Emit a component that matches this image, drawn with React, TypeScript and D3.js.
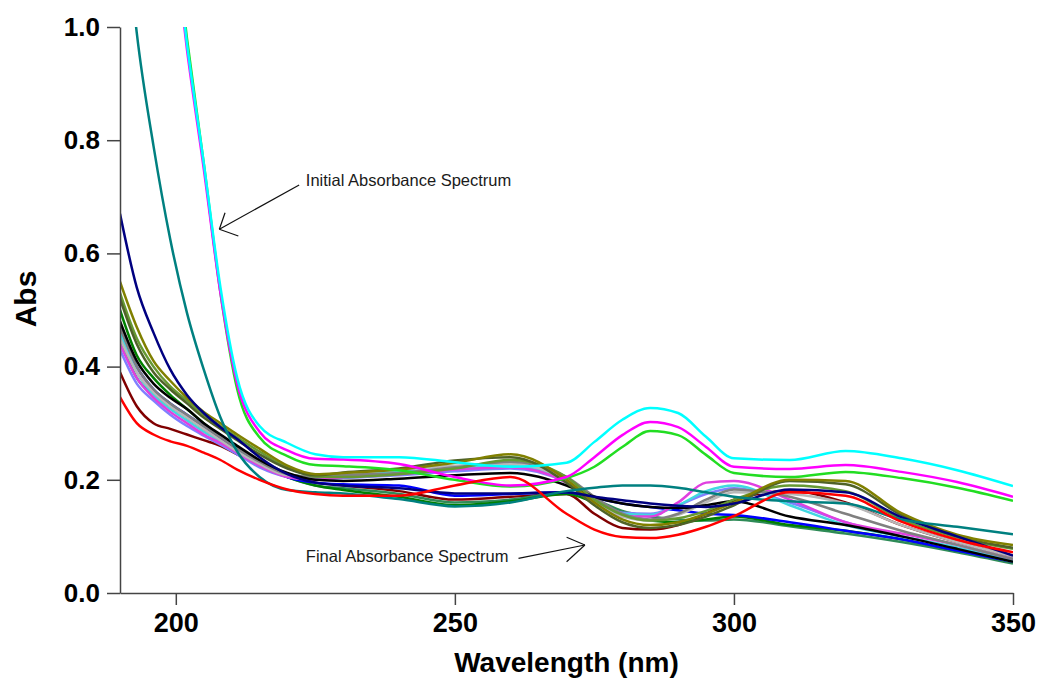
import React, { useEffect, useRef } from "react";
import * as d3 from "d3";

// wavelength grid (nm) shared by every spectrum
const wavelengths = [190, 193, 196, 199, 202, 205, 208, 211, 215, 220, 225, 230, 240, 250, 260, 270, 275, 280, 285, 290, 295, 300, 310, 320, 330, 340, 350];

// absorbance values (values above 1.0 run off the top)
const maroonAbs = [0.39, 0.33, 0.3, 0.29, 0.28, 0.27, 0.26, 0.245, 0.225, 0.205, 0.195, 0.19, 0.18, 0.165, 0.17, 0.175, 0.14, 0.115, 0.112, 0.12, 0.14, 0.165, 0.18, 0.16, 0.12, 0.09, 0.065];
const seaGreenAbs = [0.45, 0.38, 0.35, 0.33, 0.31, 0.29, 0.27, 0.25, 0.228, 0.205, 0.19, 0.185, 0.175, 0.16, 0.165, 0.178, 0.165, 0.145, 0.135, 0.13, 0.128, 0.13, 0.118, 0.105, 0.09, 0.072, 0.052];
const greenAbs = [0.5, 0.42, 0.38, 0.35, 0.325, 0.3, 0.278, 0.258, 0.232, 0.205, 0.19, 0.182, 0.17, 0.155, 0.162, 0.175, 0.16, 0.14, 0.128, 0.125, 0.13, 0.135, 0.12, 0.11, 0.095, 0.075, 0.06];
const blueAbs = [0.47, 0.4, 0.36, 0.335, 0.315, 0.295, 0.275, 0.255, 0.23, 0.205, 0.195, 0.192, 0.19, 0.172, 0.175, 0.178, 0.168, 0.158, 0.152, 0.146, 0.14, 0.138, 0.125, 0.11, 0.095, 0.075, 0.055];
const lavenderAbs = [0.43, 0.37, 0.34, 0.315, 0.295, 0.278, 0.262, 0.245, 0.222, 0.205, 0.2, 0.203, 0.208, 0.215, 0.22, 0.195, 0.162, 0.142, 0.14, 0.155, 0.175, 0.185, 0.16, 0.125, 0.1, 0.08, 0.058];
const aquaAbs = [0.46, 0.39, 0.35, 0.325, 0.305, 0.285, 0.268, 0.25, 0.228, 0.21, 0.205, 0.21, 0.215, 0.22, 0.225, 0.198, 0.165, 0.14, 0.138, 0.155, 0.18, 0.19, 0.155, 0.12, 0.1, 0.08, 0.055];
const violetAbs = [0.44, 0.38, 0.345, 0.32, 0.3, 0.28, 0.265, 0.248, 0.225, 0.205, 0.2, 0.205, 0.21, 0.218, 0.222, 0.195, 0.16, 0.135, 0.135, 0.16, 0.195, 0.198, 0.165, 0.125, 0.105, 0.085, 0.06];
const silverAbs = [0.45, 0.39, 0.355, 0.33, 0.31, 0.29, 0.27, 0.25, 0.228, 0.208, 0.206, 0.21, 0.218, 0.225, 0.228, 0.2, 0.165, 0.135, 0.128, 0.138, 0.16, 0.178, 0.175, 0.158, 0.12, 0.09, 0.065];
const grayAbs = [0.47, 0.4, 0.36, 0.335, 0.315, 0.295, 0.275, 0.255, 0.232, 0.21, 0.205, 0.208, 0.212, 0.222, 0.232, 0.205, 0.17, 0.14, 0.13, 0.14, 0.165, 0.183, 0.17, 0.14, 0.11, 0.085, 0.06];
const blackAbs = [0.48, 0.41, 0.37, 0.345, 0.325, 0.3, 0.28, 0.26, 0.235, 0.212, 0.2, 0.198, 0.202, 0.208, 0.212, 0.19, 0.17, 0.158, 0.152, 0.15, 0.155, 0.162, 0.135, 0.12, 0.1, 0.078, 0.055];
const yellowGreenAbs = [0.53, 0.45, 0.4, 0.365, 0.34, 0.315, 0.295, 0.275, 0.25, 0.222, 0.206, 0.205, 0.21, 0.22, 0.235, 0.205, 0.165, 0.138, 0.128, 0.132, 0.145, 0.165, 0.19, 0.18, 0.13, 0.098, 0.078];
const darkOliveAbs = [0.52, 0.44, 0.39, 0.36, 0.335, 0.31, 0.29, 0.27, 0.245, 0.22, 0.208, 0.213, 0.22, 0.234, 0.24, 0.195, 0.155, 0.125, 0.115, 0.12, 0.135, 0.155, 0.198, 0.192, 0.138, 0.1, 0.08];
const oliveAbs = [0.55, 0.47, 0.41, 0.375, 0.345, 0.32, 0.3, 0.28, 0.255, 0.225, 0.21, 0.212, 0.218, 0.23, 0.245, 0.2, 0.16, 0.13, 0.12, 0.125, 0.14, 0.16, 0.2, 0.198, 0.141, 0.103, 0.085];
const navyAbs = [0.67, 0.54, 0.46, 0.395, 0.35, 0.318, 0.293, 0.272, 0.24, 0.21, 0.195, 0.19, 0.185, 0.176, 0.176, 0.178, 0.17, 0.164, 0.158, 0.154, 0.152, 0.158, 0.183, 0.178, 0.134, 0.1, 0.066];
const tealAbs = [1.3, 0.99, 0.79, 0.625, 0.495, 0.395, 0.31, 0.25, 0.205, 0.182, 0.178, 0.176, 0.166, 0.153, 0.16, 0.18, 0.186, 0.19, 0.19, 0.186, 0.178, 0.17, 0.162, 0.158, 0.13, 0.117, 0.104];
const limeAbs = [2.3, 1.86, 1.51, 1.23, 0.98, 0.76, 0.53, 0.36, 0.275, 0.242, 0.226, 0.224, 0.217, 0.2, 0.188, 0.203, 0.223, 0.258, 0.286, 0.279, 0.244, 0.212, 0.205, 0.214, 0.203, 0.186, 0.163];
const magentaAbs = [2.3, 1.84, 1.49, 1.21, 0.96, 0.75, 0.53, 0.37, 0.285, 0.252, 0.237, 0.236, 0.228, 0.205, 0.19, 0.205, 0.24, 0.279, 0.302, 0.293, 0.258, 0.223, 0.219, 0.226, 0.214, 0.196, 0.17];
const cyanAbs = [2.3, 1.85, 1.5, 1.22, 0.97, 0.76, 0.54, 0.38, 0.295, 0.265, 0.245, 0.24, 0.24, 0.231, 0.223, 0.23, 0.267, 0.306, 0.327, 0.318, 0.276, 0.238, 0.235, 0.251, 0.238, 0.217, 0.189];
const redAbs = [0.346, 0.3, 0.28, 0.268, 0.26, 0.248, 0.235, 0.218, 0.2, 0.183, 0.175, 0.172, 0.172, 0.19, 0.205, 0.14, 0.112, 0.099, 0.097, 0.103, 0.117, 0.136, 0.178, 0.172, 0.126, 0.094, 0.072];

const xTicks = [200, 250, 300, 350];
const yTicks = [0, 0.2, 0.4, 0.6, 0.8, 1.0];

// drawing order, bottom to top
const spectra = [
  { values: maroonAbs, color: "#800000" },
  { values: seaGreenAbs, color: "#2e8b57" },
  { values: greenAbs, color: "#008000" },
  { values: blueAbs, color: "#0000ff" },
  { values: lavenderAbs, color: "#8080ff" },
  { values: aquaAbs, color: "#40d8e0" },
  { values: violetAbs, color: "#e040e0" },
  { values: silverAbs, color: "#b8b8b8" },
  { values: grayAbs, color: "#808080" },
  { values: blackAbs, color: "#000000" },
  { values: yellowGreenAbs, color: "#669933" },
  { values: darkOliveAbs, color: "#4f6228" },
  { values: oliveAbs, color: "#808000" },
  { values: navyAbs, color: "#000080" },
  { values: tealAbs, color: "#008080" },
  { values: limeAbs, color: "#22dd22" },
  { values: magentaAbs, color: "#ff00ff" },
  { values: cyanAbs, color: "#00ffff" },
  { values: redAbs, color: "#ff0000" },
];

const W = 1042;
const H = 681;
const FONT = "'Liberation Sans', Arial, sans-serif";

const App = () => {
  const ref = useRef<SVGSVGElement>(null);

  useEffect(() => {
    drawChart();
    //eslint-disable-next-line
  }, []);

  function drawChart() {
    const svg = d3.select(ref.current);
    svg.selectAll("*").remove();

    const margin = { top: 27, right: 29, bottom: 88, left: 120 };
    const width = W - margin.left - margin.right;
    const height = H - margin.top - margin.bottom;

    const x = d3.scaleLinear().domain([190, 350]).range([margin.left, margin.left + width]);
    const y = d3.scaleLinear().domain([0, 1]).range([margin.top + height, margin.top]);

    svg
      .append("defs")
      .append("clipPath")
      .attr("id", "plot-clip")
      .append("rect")
      .attr("x", margin.left)
      .attr("y", margin.top)
      .attr("width", width)
      .attr("height", height);

    // spectra
    const line = d3
      .line<number>()
      .x((_, i) => x(wavelengths[i]))
      .y((d) => y(d))
      .curve(d3.curveMonotoneX);

    svg
      .append("g")
      .attr("clip-path", "url(#plot-clip)")
      .selectAll("path")
      .data(spectra)
      .enter()
      .append("path")
      .attr("d", (d) => line(d.values))
      .attr("fill", "none")
      .attr("stroke", (d) => d.color)
      .attr("stroke-width", 2.5)
      .attr("stroke-linejoin", "round");

    // X axis
    const gx = svg
      .append("g")
      .attr("transform", `translate(0, ${margin.top + height})`)
      .call(d3.axisBottom(x).tickValues(xTicks).tickSize(12).tickSizeOuter(0).tickPadding(8).tickFormat(d3.format("d")));
    gx.select(".domain").attr("stroke", "#444").attr("stroke-width", 1.5);
    gx.selectAll(".tick line").attr("stroke", "#444").attr("stroke-width", 1.5);
    gx.selectAll(".tick text")
      .attr("fill", "#000")
      .style("font-family", FONT)
      .style("font-weight", "bold")
      .style("font-size", "27px");

    // Y axis
    const gy = svg
      .append("g")
      .attr("transform", `translate(${margin.left}, 0)`)
      .call(d3.axisLeft(y).tickValues(yTicks).tickSize(13).tickSizeOuter(0).tickPadding(7).tickFormat(d3.format(".1f")));
    gy.select(".domain").attr("stroke", "#444").attr("stroke-width", 1.5);
    gy.selectAll(".tick line").attr("stroke", "#444").attr("stroke-width", 1.5);
    gy.selectAll(".tick text")
      .attr("fill", "#000")
      .style("font-family", FONT)
      .style("font-weight", "bold")
      .style("font-size", "26px");

    // axis titles
    svg
      .append("text")
      .attr("x", margin.left + width / 2)
      .attr("y", 672)
      .attr("text-anchor", "middle")
      .style("font-family", FONT)
      .style("font-weight", "bold")
      .style("font-size", "28px")
      .text("Wavelength (nm)");

    svg
      .append("text")
      .attr("transform", `translate(36, 299) rotate(-90)`)
      .attr("text-anchor", "middle")
      .style("font-family", FONT)
      .style("font-weight", "bold")
      .style("font-size", "30px")
      .text("Abs");

    // annotations (in data units)
    const notes = [
      { label: "Initial Absorbance Spectrum", text: [223.3, 0.719], from: [222.1, 0.721], tip: [207.8, 0.6426], arms: [[5.7, -16.6], [19, 6.7]] },
      { label: "Final Absorbance Spectrum", text: [223.3, 0.0548], from: [261.4, 0.0613], tip: [273.3, 0.0848], arms: [[-18.3, -7.7], [-18.3, 16.7]] },
    ];

    notes.forEach((n) => {
      const tx = x(n.tip[0]);
      const ty = y(n.tip[1]);
      svg
        .append("text")
        .attr("x", x(n.text[0]))
        .attr("y", y(n.text[1]))
        .attr("fill", "#1a1a1a")
        .style("font-family", FONT)
        .style("font-size", "16.5px")
        .text(n.label);
      svg
        .append("line")
        .attr("x1", x(n.from[0]))
        .attr("y1", y(n.from[1]))
        .attr("x2", tx)
        .attr("y2", ty)
        .attr("stroke", "#111")
        .attr("stroke-width", 1.2);
      n.arms.forEach((a) => {
        svg
          .append("line")
          .attr("x1", tx)
          .attr("y1", ty)
          .attr("x2", tx + a[0])
          .attr("y2", ty + a[1])
          .attr("stroke", "#111")
          .attr("stroke-width", 1.2);
      });
    });
  }

  return (
    <svg
      ref={ref}
      width={W}
      height={H}
      style={{ position: "absolute", left: 0, top: 0, background: "#fff" }}
    />
  );
};

export default App;
